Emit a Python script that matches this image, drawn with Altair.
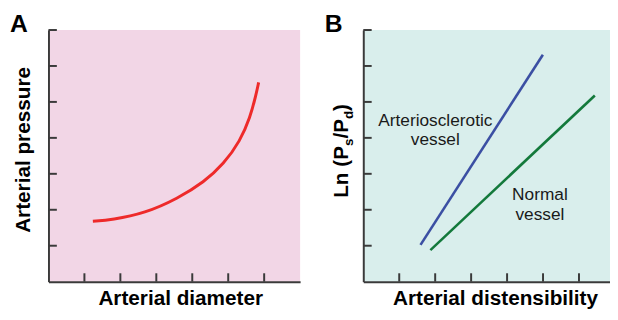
import altair as alt
import pandas as pd

# ---------------- data ----------------
# Panel A: arterial pressure vs arterial diameter (arbitrary units)
curve_x = [1.235, 1.765, 2.682, 3.596, 4.329, 4.878, 5.333, 5.608, 5.773, 5.847]
curve_y = [1.683, 1.721, 1.902, 2.314, 2.772, 3.275, 3.917, 4.557, 5.196, 5.545]

# Panel B: Ln(Ps/Pd) vs arterial distensibility
line_series = ["Arteriosclerotic", "Arteriosclerotic", "Normal", "Normal"]
line_x = [1.592, 4.996, 1.867, 6.441]
line_y = [1.024, 6.313, 0.878, 5.180]

x_ticks = [1, 2, 3, 4, 5, 6]
y_ticks = [1, 2, 3, 4, 5, 6, 7]

note_text = ["Arteriosclerotic\nvessel", "Normal\nvessel"]
note_x = [2.004, 4.914]
note_y = [4.337, 2.27]

panel_letters = ["A", "B"]
ln_title_pieces = ["Ln (P", "s", "/P", "d", ")"]

# ---------------- style ----------------
W = H = 255
WB = 250                      # panel B runs off the right edge
UNIT = W / 7.0
AXIS_COL = "#3a3a3a"
FONT = "Liberation Sans"
PINK = "#f2d6e6"
TEAL = "#d9eeec"
RED = "#ee2a2a"
BLUE = "#3b4fa3"
GREEN = "#13793b"
TITLE_FS = 21

xsA = alt.Scale(domain=[0, 7], nice=False, zero=False)
xsB = alt.Scale(domain=[0, WB / UNIT], nice=False, zero=False)
ys = alt.Scale(domain=[0, 7], nice=False, zero=False)


def x_axis(title):
    return alt.Axis(title=title, ticks=False, labels=False, grid=False,
                    domainColor=AXIS_COL, domainWidth=2,
                    titleFontSize=TITLE_FS, titleFontWeight="bold", titleFont=FONT,
                    titleColor="black", titlePadding=6, titleX=133.5)


def y_axis(title):
    return alt.Axis(title=title if title else "", ticks=False, labels=False,
                    grid=False, domainColor=AXIS_COL, domainWidth=2,
                    titleFontSize=TITLE_FS, titleFontWeight="bold", titleFont=FONT,
                    titleColor="black", titlePadding=15, titleY=121)


def tick_layers(xs, xa, ya):
    xt = alt.Chart(pd.DataFrame({"t": x_ticks})).mark_rule(
        color=AXIS_COL, strokeWidth=2).encode(
        x=alt.X("t:Q", scale=xs, axis=xa),
        y=alt.value(H), y2=alt.value(H - 8.5))
    yt = alt.Chart(pd.DataFrame({"t": y_ticks})).mark_rule(
        color=AXIS_COL, strokeWidth=2).encode(
        y=alt.Y("t:Q", scale=ys, axis=ya),
        x=alt.value(0), x2=alt.value(8.5))
    return xt, yt


def letter_layer(letter):
    return alt.Chart(pd.DataFrame({"l": [letter]})).mark_text(
        font=FONT, fontSize=25, fontWeight="bold", align="left",
        baseline="alphabetic", color="black").encode(
        text="l:N", x=alt.value(-39), y=alt.value(2.3))


# ---------------- panel A ----------------
xa_A = x_axis("Arterial diameter")
ya_A = y_axis("Arterial pressure")
df_a = pd.DataFrame({"x": curve_x, "y": curve_y})
curve = alt.Chart(df_a).mark_line(color=RED, strokeWidth=3,
                                  interpolate="basis").encode(
    x=alt.X("x:Q", scale=xsA, axis=xa_A),
    y=alt.Y("y:Q", scale=ys, axis=ya_A))
xtA, ytA = tick_layers(xsA, xa_A, ya_A)
panelA = alt.layer(xtA, ytA, curve, letter_layer(panel_letters[0])).properties(
    width=W, height=H, view=alt.ViewBackground(fill=PINK, stroke=None))

# ---------------- panel B ----------------
xa_B = x_axis("Arterial distensibility")
ya_B = y_axis(None)
df_b = pd.DataFrame({"x": line_x, "y": line_y, "s": line_series})
lines = alt.Chart(df_b).mark_line(strokeWidth=2.6).encode(
    x=alt.X("x:Q", scale=xsB, axis=xa_B),
    y=alt.Y("y:Q", scale=ys, axis=ya_B),
    color=alt.Color("s:N", scale=alt.Scale(domain=["Arteriosclerotic", "Normal"],
                                           range=[BLUE, GREEN]), legend=None),
    detail="s:N")
df_n = pd.DataFrame({"t": note_text, "x": note_x, "y": note_y})
notes = alt.Chart(df_n).mark_text(font=FONT, fontSize=17.5, lineBreak="\n",
                                  lineHeight=20, align="center",
                                  baseline="alphabetic", color="#1a1a1a").encode(
    x=alt.X("x:Q", scale=xsB, axis=xa_B),
    y=alt.Y("y:Q", scale=ys, axis=ya_B),
    text="t:N")
xtB, ytB = tick_layers(xsB, xa_B, ya_B)

# composed rotated y title with subscripts
main_fs, sub_fs = 21, 13.5
piece_specs = [  # (text index, y start px, x baseline px, size)
    (0, 170, -15, main_fs),
    (1, 117.5, -10, sub_fs),
    (2, 110, -15, main_fs),
    (3, 90.2, -10, sub_fs),
    (4, 82, -15, main_fs),
]
ln_layers = []
for idx, ypos, xpos, fs in piece_specs:
    ln_layers.append(
        alt.Chart(pd.DataFrame({"p": [ln_title_pieces[idx]]})).mark_text(
            font=FONT, fontSize=fs, fontWeight="bold", angle=270,
            align="left", baseline="alphabetic", color="black").encode(
            text="p:N", x=alt.value(xpos), y=alt.value(ypos)))

panelB = alt.layer(xtB, ytB, lines, notes, letter_layer(panel_letters[1]),
                   *ln_layers).properties(
    width=WB, height=H, view=alt.ViewBackground(fill=TEAL, stroke=None))

chart = alt.hconcat(panelA, panelB, spacing=25).properties(
    padding={"left": 2, "top": 2.3, "right": 0, "bottom": 0}
).configure_view(stroke=None)

chart.save("out.html", embed_options={"renderer": "svg", "actions": False})
